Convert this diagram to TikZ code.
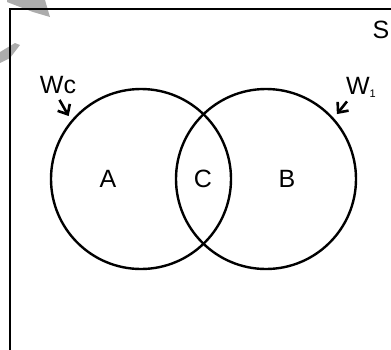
\documentclass[tikz,border=0pt]{standalone}
\usepackage{fontspec}
\setmainfont{Liberation Sans}
\usetikzlibrary{arrows.meta}
\newcommand{\setSize}{180pt}
\newcommand{ \setLabelSty }[1]{\fontsize{25}{30}\selectfont #1}
\newcommand{ \subSty }[1]{\raisebox{-3pt}{\fontsize{11}{12}\selectfont #1}}
\tikzset{
  setcircle/.style={circle, draw, line width=2.4pt, minimum size=\setSize, inner sep=0pt},
  pointer/.style={-{Straight Barb[length=8pt,width=14pt]}, line width=2.6pt}
}

\begin{document}
\begin{tikzpicture}[x=1pt,y=-1pt]

		\useasboundingbox (0,0) rectangle (391,349);
		\clip (0,0) rectangle (391,349);

		% smudges
		\fill[gray!65] (7,0) -- (45,0) -- (50,17) -- (33,12) -- (20,7) -- (7,2) -- cycle;
		\fill[gray!65] (0,52) -- (15,43) -- (20,45) -- (10,58) -- (0,63) -- cycle;

		% universe
		\draw[line width=2.8pt] (10,400) -- (10,9) -- (420,9);
		\node[anchor=center] (universe) at (381,30) {\setLabelSty{S}};

		% sets
		\node[setcircle] (wc) at (141,179) {};
		\node[setcircle] (wone) at (266,179) {};

		% regions
		\node (regionA) at (108,179) {\setLabelSty{A}};
		\node (regionC) at (203,179) {\setLabelSty{C}};
		\node (regionB) at (287,179) {\setLabelSty{B}};

		% labels
		\node (wcLabel) at (58,85) {\setLabelSty{Wc}};
		\node (woneLabel) at (361,87) {\setLabelSty{W\subSty{1}}};

		% pointers
		\draw[pointer, shorten <=3pt, shorten >=5pt] (wcLabel.south) -- (wc.140);
		\draw[pointer, shorten <=1pt, shorten >=5pt] ([xshift=5pt]woneLabel.south west) -- (wone.42);

	\end{tikzpicture}
\end{document}
